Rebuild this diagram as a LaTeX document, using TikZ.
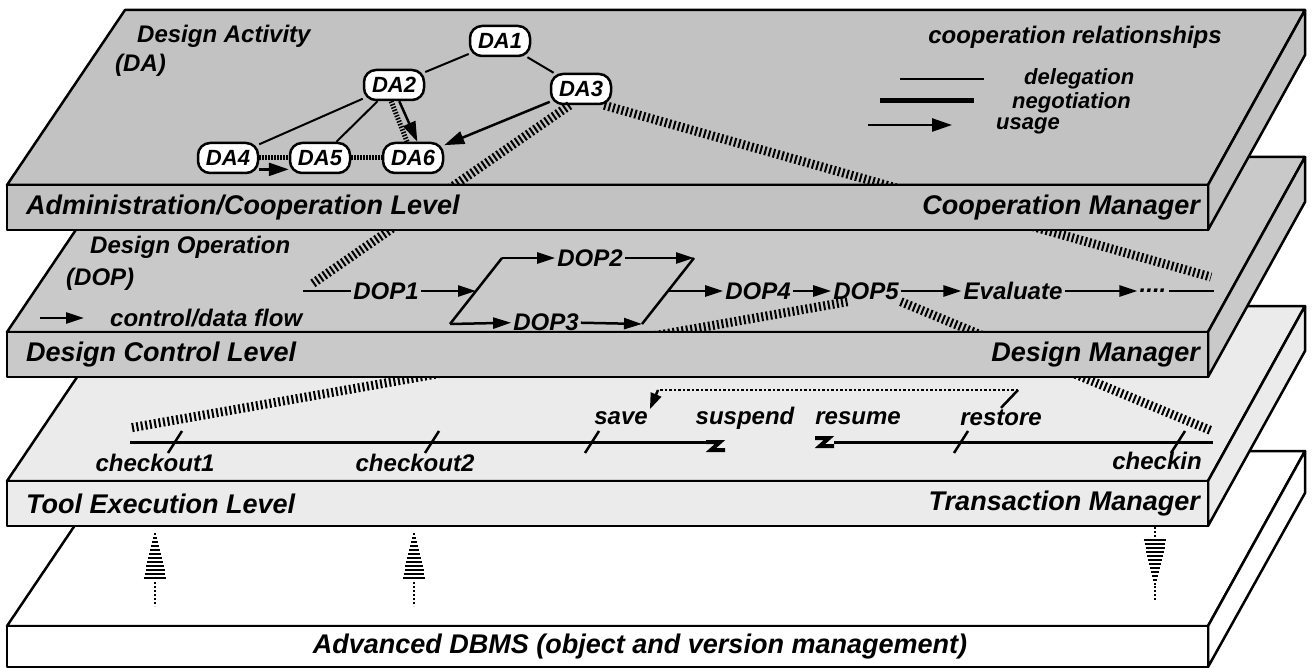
\documentclass[tikz,border=0pt]{standalone}
\usepackage{fontspec}
\setmainfont{Liberation Sans}
\usetikzlibrary{arrows.meta}
\definecolor{coopgray}{gray}{0.76}
\definecolor{ctrlgray}{gray}{0.79}
\definecolor{toolgray}{gray}{0.92}

\begin{document}
\begin{tikzpicture}[x=1pt, y=-1pt,
    every node/.style={font=\bfseries\itshape\fontsize{24}{28}\selectfont, inner sep=2pt},
    slab/.style={draw, line width=2.5, line join=round},
    lvl/.style={font=\bfseries\itshape\fontsize{27}{30}\selectfont},
    legtext/.style={anchor=west, inner sep=0pt, font=\bfseries\itshape\fontsize{22}{24}\selectfont},
    da/.style={draw, fill=white, line width=2.5, rounded corners=12, minimum width=60, minimum height=30, inner sep=3pt, font=\bfseries\itshape\fontsize{22}{24}\selectfont},
    deleg/.style={line width=2},
    negot/.style={line width=5, dash pattern=on 1.5pt off 1.5pt},
    usage/.style={line width=2.5, -{Triangle[length=20pt,width=13pt]}},
    flow/.style={line width=2.5, -{Triangle[length=18pt,width=11pt]}},
    rail/.style={line width=9, dash pattern=on 2pt off 2.5pt},
    brk/.style={line width=4, line join=miter}]
\useasboundingbox (0,0) rectangle (1313,668);

\filldraw[slab, fill=white] (125,451) -- (1305,451) -- (1208,626) -- (7,626) -- cycle;
\filldraw[slab, fill=white] (1208,626) -- (1305,451) -- (1305,493) -- (1208,667) -- cycle;
\filldraw[slab, fill=toolgray] (125,306) -- (1305,306) -- (1208,481) -- (7,481) -- cycle;
\filldraw[slab, fill=toolgray] (1208,481) -- (1305,306) -- (1305,351) -- (1208,526) -- cycle;
\filldraw[slab, fill=ctrlgray] (125,157) -- (1305,157) -- (1208,332) -- (7,332) -- cycle;
\filldraw[slab, fill=ctrlgray] (1208,332) -- (1305,157) -- (1305,202) -- (1208,377) -- cycle;
\filldraw[slab, fill=coopgray] (125,10) -- (1305,10) -- (1208,185) -- (7,185) -- cycle;
\filldraw[slab, fill=coopgray] (1208,185) -- (1305,10) -- (1305,55) -- (1208,230) -- cycle;

% cooperation level
\node[anchor=west] (dahead) at (135,36) {Design Activity};
\node[anchor=west] (dashort) at (113,65) {(DA)};
\node[da] (da1) at (500,41) {DA1};
\node[da] (da2) at (394,85) {DA2};
\node[da] (da3) at (581,89) {DA3};
\node[da] (da4) at (228,158) {DA4};
\node[da] (da5) at (320,158) {DA5};
\node[da] (da6) at (413,158) {DA6};
\draw[deleg] (da1) -- (da2);
\draw[deleg] (da1) -- (da3);
\draw[deleg] (da2) -- (da4);
\draw[deleg] (da2) -- (da5);
\draw[negot] (da4) -- (da5);
\draw[negot] (da5) -- (da6);
\draw[negot] (da2.-100) -- (da6.110);
\draw[usage] (da2.-72) -- (da6.75);
\draw[usage] (da3) -- (da6);
\draw[usage] (da4.-20) -- (da5.-160);

\node (legtitle) at (1075,37) {cooperation relationships};
\coordinate (ld1) at (900,79);
\coordinate (ld2) at (984,79);
\coordinate (ln1) at (880,101);
\coordinate (ln2) at (974,101);
\coordinate (lu1) at (868,125);
\coordinate (lu2) at (952,125);
\draw[deleg] (ld1) -- (ld2);
\draw[line width=5] (ln1) -- (ln2);
\draw[usage] (lu1) -- (lu2);
\node[legtext] (ldeleg) at (1024,79) {delegation};
\node[legtext] (lnegot) at (1012,103) {negotiation};
\node[legtext] (lusage) at (996,126) {usage};

% design control level
\node[anchor=west] (dophead) at (88,247) {Design Operation};
\node[anchor=west] (dopshort) at (64,279) {(DOP)};
\coordinate (cf1) at (40,318);
\coordinate (cf2) at (84,318);
\draw[flow] (cf1) -- (cf2);
\node[anchor=west] (cflabel) at (108,318) {control/data flow};

\coordinate (fstart) at (303,291);
\coordinate (fend) at (1214,291);
\coordinate (pbl) at (450,324);
\coordinate (ptl) at (502,258);
\coordinate (ptr) at (694,258);
\coordinate (pbr) at (642,324);
\coordinate (pl) at (476,291);
\coordinate (pr) at (668,291);
\node (dop1) at (386,291) {DOP1};
\node (dop2) at (590,258) {DOP2};
\node (dop3) at (546,322) {DOP3};
\node (dop4) at (758,291) {DOP4};
\node (dop5) at (866,291) {DOP5};
\node (dopeval) at (1013,291) {Evaluate};
\node (dopdots) at (1153,291) {....};
\draw[line width=2.5] (fstart) -- (dop1);
\draw[flow] (dop1) -- (pl);
\draw[line width=2.5] (pbl) -- (ptl);
\draw[line width=2.5] (pbr) -- (ptr);
\draw[flow] (ptl) -- (dop2);
\draw[flow] (dop2) -- (ptr);
\draw[flow] (pbl) -- (dop3);
\draw[flow] (dop3) -- (pbr);
\draw[flow] (pr) -- (dop4);
\draw[flow] (dop4) -- (dop5);
\draw[flow] (dop5) -- (dopeval);
\draw[flow] (dopeval) -- (dopdots);
\draw[line width=2.5] (dopdots) -- (fend);

% tool execution level
\coordinate (tstart) at (130,442);
\coordinate (tsusp) at (706,442);
\coordinate (tres) at (834,442);
\coordinate (tend) at (1213,442);
\draw[line width=3] (tstart) -- (tsusp);
\draw[brk] (tsusp) -- ++(14,0) -- ++(-9,8) -- ++(14,0);
\draw[brk] (tres) ++(-19,-4) -- ++(14,0) -- ++(-9,8) -- ++(14,0);
\draw[line width=3] (tres) -- (tend);
\foreach \tx in {175,432,592,961,1178}
  \draw[line width=2.5] (\tx-7,453) -- (\tx+7,431);
\node (tco1) at (155,463) {checkout1};
\node (tco2) at (415,463) {checkout2};
\node (tsave) at (621,418) {save};
\node (tsusplbl) at (745,418) {suspend};
\node (treslbl) at (858,418) {resume};
\node (trest) at (1001,418) {restore};
\node (tcin) at (1157,461) {checkin};
\coordinate (rs2) at (1018,390);
\coordinate (rs3) at (658,390);
\draw[line width=2.5] (trest.north) -- (rs2);
\draw[line width=2.5, dotted] (rs2) -- (rs3);
\draw[line width=2.5, -{Triangle[length=16pt,width=11pt]}] (rs3) -- (tsave.north east);

% refinement
\coordinate (ha) at (312,284);
\coordinate (hb) at (1211,277);
\coordinate (hc) at (130,428);
\coordinate (hd) at (1212,431);
\draw[rail] (da3.235) -- (ha);
\draw[rail] (da3.-35) -- (hb);
\draw[rail] (dop5.-150) -- (hc);
\draw[rail] (dop5.south east) -- (hd);

% database access
\foreach \ax in {155,414} {
  \foreach \k in {1,...,12}
    \draw[line width=2] (\ax-\k*0.95,530+\k*4) -- (\ax+\k*0.95,530+\k*4);
  \draw[line width=2.5, dash pattern=on 2pt off 2pt] (\ax,582) -- (\ax,606);
}
\foreach \k in {0,...,11}
  \draw[line width=2] (1155-12*0.95+\k*0.95,540+\k*4) -- (1155+12*0.95-\k*0.95,540+\k*4);
\draw[line width=2.5, dash pattern=on 2pt off 2pt] (1155,527) -- (1155,538);
\draw[line width=2.5, dash pattern=on 2pt off 2pt] (1155,586) -- (1155,600);

\filldraw[slab, fill=coopgray] (7,185) rectangle (1208,230);
\node[lvl, anchor=west] (admlvl) at (24,208) {Administration/Cooperation Level};
\node[lvl, anchor=east] (coopmgr) at (1202,208) {Cooperation Manager};
\filldraw[slab, fill=ctrlgray] (7,332) rectangle (1208,377);
\node[lvl, anchor=west] (ctrllvl) at (24,355) {Design Control Level};
\node[lvl, anchor=east] (designmgr) at (1202,355) {Design Manager};
\filldraw[slab, fill=toolgray] (7,481) rectangle (1208,526);
\node[lvl, anchor=west] (toollvl) at (24,504) {Tool Execution Level};
\node[lvl, anchor=east] (transmgr) at (1202,504) {Transaction Manager};
\filldraw[slab, fill=white] (7,626) rectangle (1208,667);
\node[lvl] (dbms) at (640,647) {Advanced DBMS (object and version management)};
\end{tikzpicture}
\end{document}
